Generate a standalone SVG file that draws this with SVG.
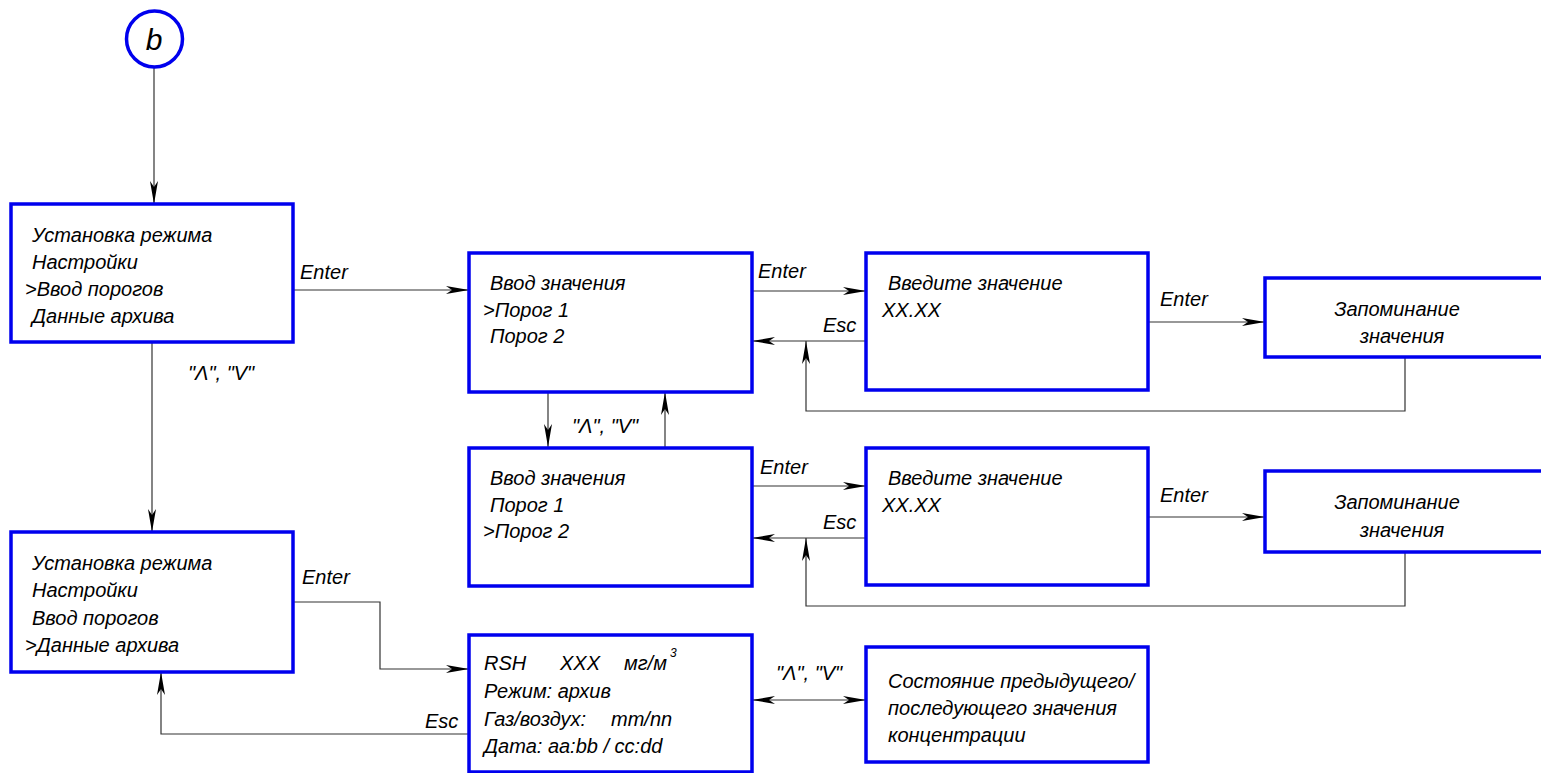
<svg xmlns="http://www.w3.org/2000/svg" width="1541" height="773" viewBox="0 0 1541 773">
<style>
.box{fill:#fff;stroke:#0000ee;stroke-width:3.5}
.t{font-family:"Liberation Sans",Arial,sans-serif;font-style:italic;font-size:20px;fill:#000}
.c{fill:none;stroke:#333;stroke-width:1.2}
</style>
<defs>
<marker id="ah" markerUnits="userSpaceOnUse" markerWidth="24" markerHeight="12" refX="23" refY="6" orient="auto-start-reverse" viewBox="0 0 24 12">
<path d="M0,2 L23,6 L0,10 L6,6 z" fill="#000"/>
</marker>
</defs>
<rect width="1541" height="773" fill="#fff"/>
<g id="connectors">
<path class="c" d="M154,67 V204" marker-end="url(#ah)"/>
<path class="c" d="M293,290 H469" marker-end="url(#ah)"/>
<path class="c" d="M752,291 H866" marker-end="url(#ah)"/>
<path class="c" d="M866,341 H752" marker-end="url(#ah)"/>
<path class="c" d="M1148,322 H1265" marker-end="url(#ah)"/>
<path class="c" d="M1405,357 V411 H806 V341" marker-end="url(#ah)"/>
<path class="c" d="M548,392 V447" marker-end="url(#ah)"/>
<path class="c" d="M665,447 V392" marker-end="url(#ah)"/>
<path class="c" d="M752,486 H866" marker-end="url(#ah)"/>
<path class="c" d="M866,538 H752" marker-end="url(#ah)"/>
<path class="c" d="M1148,517 H1265" marker-end="url(#ah)"/>
<path class="c" d="M1405,552 V606 H806 V538" marker-end="url(#ah)"/>
<path class="c" d="M152,342 V532" marker-end="url(#ah)"/>
<path class="c" d="M293,602 H380 V669 H469" marker-end="url(#ah)"/>
<path class="c" d="M469,734 H161 V672" marker-end="url(#ah)"/>
<path class="c" d="M752,700 H866" marker-start="url(#ah)" marker-end="url(#ah)"/>
<text class="t" x="300" y="279">Enter</text>
<text class="t" x="758" y="278">Enter</text>
<text class="t" x="823" y="332">Esc</text>
<text class="t" x="1160" y="306">Enter</text>
<text class="t" x="572" y="433">"Λ", "V"</text>
<text class="t" x="760" y="474">Enter</text>
<text class="t" x="823" y="529">Esc</text>
<text class="t" x="1160" y="502">Enter</text>
<text class="t" x="188" y="380">"Λ", "V"</text>
<text class="t" x="302" y="584">Enter</text>
<text class="t" x="425" y="728">Esc</text>
<text class="t" x="776" y="680">"Λ", "V"</text>
</g>
<g id="start">
<circle cx="154.5" cy="39" r="28" fill="#fff" stroke="#0000ee" stroke-width="3.5"/>
<text class="t" x="154" y="50" text-anchor="middle" style="font-size:30px">b</text>
</g>
<g id="menu1">
<rect class="box" x="11" y="204" width="282" height="138"/>
<text class="t" x="32" y="242">Установка режима</text>
<text class="t" x="32" y="269">Настройки</text>
<text class="t" x="25" y="296">&gt;Ввод порогов</text>
<text class="t" x="32" y="323">Данные архива</text>
</g>
<g id="input1">
<rect class="box" x="469" y="253" width="283" height="139"/>
<text class="t" x="490" y="290">Ввод значения</text>
<text class="t" x="483" y="317">&gt;Порог 1</text>
<text class="t" x="490" y="343">Порог 2</text>
</g>
<g id="enter1">
<rect class="box" x="866" y="253" width="282" height="137"/>
<text class="t" x="888" y="290">Введите значение</text>
<text class="t" x="882" y="317">XX.XX</text>
</g>
<g id="save1">
<rect class="box" x="1265" y="278" width="290" height="79"/>
<text class="t" x="1397" y="316" text-anchor="middle">Запоминание</text>
<text class="t" x="1402" y="343" text-anchor="middle">значения</text>
</g>
<g id="input2">
<rect class="box" x="469" y="448" width="283" height="138"/>
<text class="t" x="490" y="485">Ввод значения</text>
<text class="t" x="490" y="512">Порог 1</text>
<text class="t" x="483" y="538">&gt;Порог 2</text>
</g>
<g id="enter2">
<rect class="box" x="866" y="448" width="282" height="137"/>
<text class="t" x="888" y="485">Введите значение</text>
<text class="t" x="882" y="512">XX.XX</text>
</g>
<g id="save2">
<rect class="box" x="1265" y="471" width="290" height="81"/>
<text class="t" x="1397" y="509" text-anchor="middle">Запоминание</text>
<text class="t" x="1402" y="537" text-anchor="middle">значения</text>
</g>
<g id="menu2">
<rect class="box" x="11" y="532" width="282" height="140"/>
<text class="t" x="32" y="570">Установка режима</text>
<text class="t" x="32" y="597">Настройки</text>
<text class="t" x="32" y="625">Ввод порогов</text>
<text class="t" x="25" y="652">&gt;Данные архива</text>
</g>
<g id="archive">
<rect class="box" x="469" y="635" width="283" height="137"/>
<text class="t" x="484" y="670">RSH</text>
<text class="t" x="560" y="670">XXX</text>
<text class="t" x="624" y="670">мг/м</text>
<text class="t" x="670" y="657" style="font-size:12px">3</text>
<text class="t" x="484" y="698">Режим: архив</text>
<text class="t" x="484" y="726">Газ/воздух:</text>
<text class="t" x="611" y="726">mm/nn</text>
<text class="t" x="484" y="753">Дата: aa:bb / cc:dd</text>
</g>
<g id="state">
<rect class="box" x="866" y="647" width="282" height="115"/>
<text class="t" x="888" y="688">Состояние предыдущего/</text>
<text class="t" x="888" y="715">последующего значения</text>
<text class="t" x="888" y="742">концентрации</text>
</g>
</svg>
